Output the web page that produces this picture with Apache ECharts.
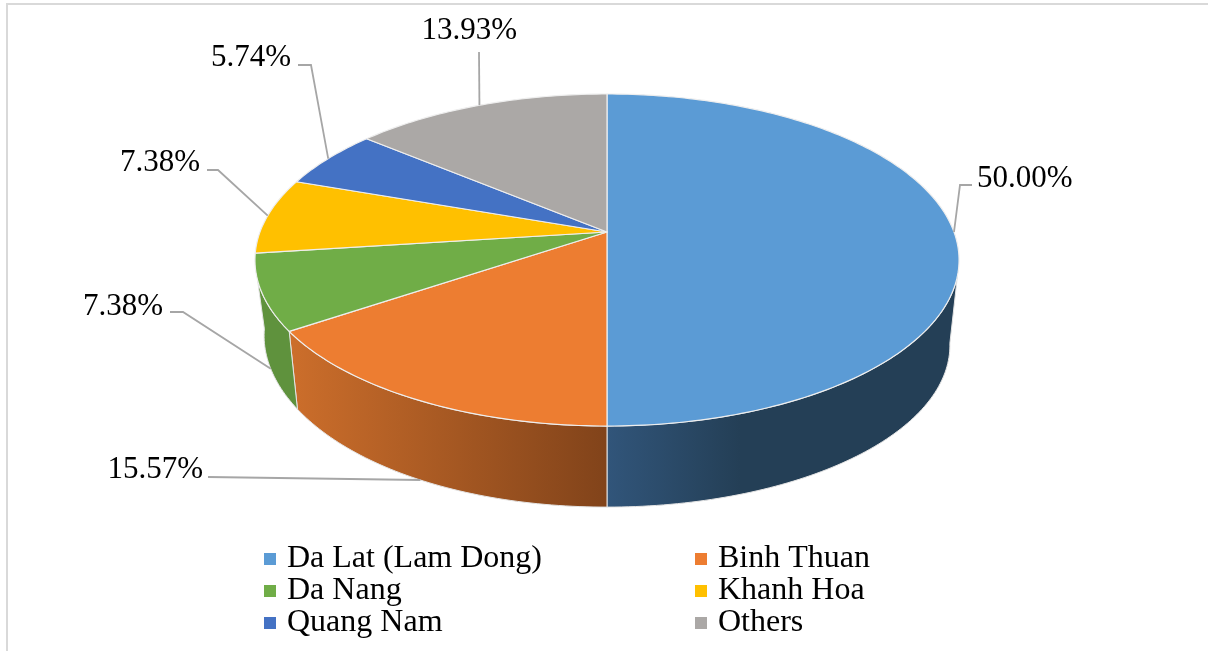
<!DOCTYPE html>
<html><head><meta charset="utf-8">
<style>html,body{margin:0;padding:0;background:#fff}#c{width:1208px;height:651px}</style>
<script src="https://cdn.jsdelivr.net/npm/echarts@6/dist/echarts.min.js"></script>
</head><body><div id="c"></div>
<script>
const categories = ['Da Lat (Lam Dong)','Binh Thuan','Da Nang','Khanh Hoa','Quang Nam','Others'];
const shares = [50.00,15.57,7.38,7.38,5.74,13.93];
const topColors = ['#5b9bd5','#ed7d31','#70ad47','#ffc000','#4472c4','#aba8a6'];
const FONT = '"Liberation Serif","Times New Roman",serif';
const top3d = {cx:607, cy:232, a:161.3, b:347, p:0.1687};
const low3d = {cx:607, cy:318, a:157.2, b:338, p:0.1687};
const sideFills = [
  {type:'linear',x:607,y:0,x2:740,y2:0,global:true,colorStops:[{offset:0,color:'#31557a'},{offset:1,color:'#243f56'}]},
  {type:'linear',x:290,y:0,x2:607,y2:0,global:true,colorStops:[{offset:0,color:'#cc6e2b'},{offset:1,color:'#81431a'}]},
  '#5f923d', null, null, null
];
// visible side limits in degrees: top rim start/end, bottom rim start/end
const sideRange = {topFrom:105, lowFrom:99, topTo:253.5, lowTo:263};
// label placement: text anchor, leader start, optional elbow, rim the leader lands on
const labelLayout = [
  {x:977,y:179,align:'left',from:[972,185],elbow:[960,185],rim:'top'},
  {x:203,y:470,align:'right',from:[208,477],elbow:null,rim:'low'},
  {x:163,y:307,align:'right',from:[170,312],elbow:[183,312],rim:'low'},
  {x:200,y:163,align:'right',from:[207,170],elbow:[218,170],rim:'top'},
  {x:291,y:58,align:'right',from:[298,65],elbow:[311,65],rim:'top'},
  {x:517,y:31,align:'right',from:[479,52],elbow:null,rim:'top'}
];
function proj(m,deg){
  const t=deg*Math.PI/180, X=Math.sin(t), Y=Math.cos(t), w=1+m.p*Y;
  let y=m.cy-m.a*Y/w;
  if(m===low3d && deg>180 && deg<360){ const s=Math.max(0,-X); y-=10*s*s*s; }
  return [m.cx+m.b*X/w, y];
}
function arc(m,d0,d1){
  const n=Math.max(2,Math.ceil(Math.abs(d1-d0))), pts=[];
  for(let i=0;i<=n;i++) pts.push(proj(m,d0+(d1-d0)*i/n));
  return pts;
}
const starts = shares.map((_,i)=>shares.slice(0,i).reduce((a,b)=>a+b,0));
function render(idx){
  return function(params,api){
    const val=api.value(0), d0=starts[idx]*3.6, d1=(starts[idx]+val)*3.6, mid=(d0+d1)/2;
    const kids=[];
    if(sideFills[idx]){
      const tA=Math.max(d0,sideRange.topFrom), tB=Math.min(d1,sideRange.topTo);
      const lA=Math.max(d0,sideRange.lowFrom), lB=Math.min(d1,sideRange.lowTo);
      kids.push({type:'polygon',z2:1,shape:{points:arc(top3d,tA,tB).concat(arc(low3d,lB,lA))},
        style:{fill:sideFills[idx],stroke:'#e4e4e4',lineWidth:1,lineJoin:'round'}});
    }
    kids.push({type:'polygon',z2:2,shape:{points:[[top3d.cx,top3d.cy]].concat(arc(top3d,d0,d1))},
      style:{fill:topColors[idx],stroke:'#eeeeee',lineWidth:1.2,lineJoin:'round'}});
    const L=labelLayout[idx];
    const anchor=proj(L.rim==='top'?top3d:low3d,mid);
    const line=[L.from].concat(L.elbow?[L.elbow]:[]).concat([anchor]);
    kids.push({type:'polyline',z2:3,shape:{points:line},style:{fill:null,stroke:'#a6a6a6',lineWidth:1.8}});
    kids.push({type:'text',z2:4,style:{text:val.toFixed(2)+'%',x:L.x,y:L.y,fill:'#000',
      fontFamily:FONT,fontSize:31,align:L.align,verticalAlign:'middle'}});
    return {type:'group',children:kids};
  };
}
const legendBase={orient:'vertical',top:543,icon:'rect',itemWidth:12,itemHeight:12,itemGap:0,
  selectedMode:false,padding:0,textStyle:{fontFamily:FONT,fontSize:32,color:'#000',lineHeight:32,padding:[0,0,0,6]}};
const chart=echarts.init(document.getElementById('c'),null,{renderer:'canvas'});
chart.setOption({
  animation:false,backgroundColor:'#fff',
  graphic:[{type:'rect',silent:true,shape:{x:7,y:4,width:1400,height:900},style:{fill:null,stroke:'#d9d9d9',lineWidth:2}}],
  legend:[
    Object.assign({},legendBase,{left:264,data:[categories[0],categories[2],categories[4]]}),
    Object.assign({},legendBase,{left:695,data:[categories[1],categories[3],categories[5]]})
  ],
  series:categories.map((name,i)=>({type:'custom',name,coordinateSystem:'none',silent:true,
    itemStyle:{color:topColors[i]},data:[[shares[i]]],renderItem:render(i)}))
});
</script></body></html>
